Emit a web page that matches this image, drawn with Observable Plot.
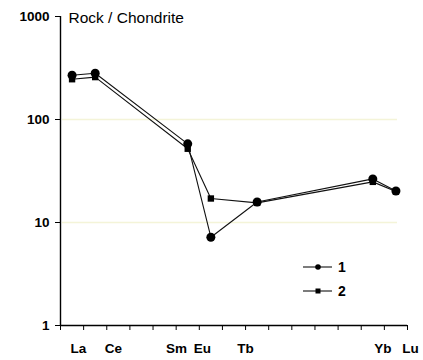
<!DOCTYPE html>
<html>
<head>
<meta charset="utf-8">
<script src="https://cdn.jsdelivr.net/npm/d3@7"></script>
<script src="https://cdn.jsdelivr.net/npm/@observablehq/plot@0.6"></script>
<style>
  html, body { margin: 0; padding: 0; background: #fff; }
  #chart { width: 423px; height: 360px; }
</style>
</head>
<body>
<div id="chart"></div>
<script>
// REE sequence (index positions on the x axis)
const elements = ["La","Ce","Pr","Nd","Pm","Sm","Eu","Gd","Tb","Dy","Ho","Er","Tm","Yb","Lu"];
// analysed elements
const sampled = ["La","Ce","Sm","Eu","Tb","Yb","Lu"];
// Rock / Chondrite values
const series1 = [269, 281, 58, 7.2, 15.8, 26.5, 20.2];
const series2 = [246, 258, 52, 17.1, 15.5, 24.8, 20.0];
const seriesNames = ["1", "2"];
// x tick labels and their positions (in element-index units)
const tickLabels = ["La","Ce","Sm","Eu","Tb","Yb","Lu"];
const tickLabelPos = [0.27, 1.79, 4.51, 5.63, 7.5, 13.44, 14.63];
const yTicks = [1, 10, 100, 1000];
const gridValues = [10, 100];
const title = "Rock / Chondrite";

const rows1 = sampled.map((e, i) => ({x: elements.indexOf(e), y: series1[i]}));
const rows2 = sampled.map((e, i) => ({x: elements.indexOf(e), y: series2[i]}));
const xTicks = d3.range(-0.5, elements.length, 1);

const plot = Plot.plot({
  width: 423,
  height: 360,
  marginLeft: 60,
  marginRight: 16,
  marginTop: 16,
  marginBottom: 35,
  style: {fontFamily: "'Liberation Sans', Arial, sans-serif", fontSize: "13.5px", background: "#fff", color: "#000"},
  x: {domain: [-0.5, elements.length - 0.5], axis: null},
  y: {type: "log", domain: [1, 1000], axis: null},
  marks: [
    Plot.ruleY(gridValues, {stroke: "#f4f4d8", strokeWidth: 1.5, insetLeft: 2, insetRight: 10}),
    Plot.axisY(yTicks, {tickSize: 5, tickPadding: 6, tickFormat: d => String(d), fontWeight: "bold", fontSize: 13.5, label: null, stroke: "#000"}),
    Plot.axisX(xTicks, {tickSize: 5, tickFormat: () => "", label: null, stroke: "#000"}),
    Plot.ruleX([-0.5], {stroke: "#000", strokeWidth: 1.4}),
    Plot.ruleY([1], {stroke: "#000", strokeWidth: 1.4}),
    Plot.text(tickLabels, {x: (d, i) => tickLabelPos[i], text: d => d, frameAnchor: "bottom", dy: 23, lineAnchor: "middle", fontWeight: "bold", fontSize: 13.5}),
    Plot.text([title], {frameAnchor: "top-left", dx: 8, dy: 2, textAnchor: "start", lineAnchor: "middle", fontSize: 15.5, text: d => d}),
    Plot.line(rows2, {x: "x", y: "y", stroke: "#111", strokeWidth: 1.1}),
    Plot.line(rows1, {x: "x", y: "y", stroke: "#111", strokeWidth: 1.1}),
    Plot.dot(rows2, {x: "x", y: "y", symbol: "square", r: 3.6, fill: "#000"}),
    Plot.dot(rows1, {x: "x", y: "y", symbol: "circle", r: 4.5, fill: "#000"})
  ]
});

document.getElementById("chart").appendChild(plot);

// legend inside the plot area
const svg = d3.select(plot);
const lg = svg.append("g").attr("transform", "translate(303,267)");
seriesNames.forEach((name, i) => {
  const g = lg.append("g").attr("transform", `translate(0,${i * 24})`);
  g.append("line").attr("x1", 0).attr("x2", 29).attr("y1", 0).attr("y2", 0).attr("stroke", "#111").attr("stroke-width", 1.1);
  if (i === 0) g.append("circle").attr("cx", 15).attr("cy", 0).attr("r", 2.8).attr("fill", "#000");
  else g.append("rect").attr("x", 12.5).attr("y", -2.5).attr("width", 5).attr("height", 5).attr("fill", "#000");
  g.append("text").attr("x", 39).attr("y", 0).attr("dy", "0.35em").attr("font-weight", "bold").attr("font-size", 14)
    .attr("font-family", "'Liberation Sans', Arial, sans-serif").text(name);
});
</script>
</body>
</html>
